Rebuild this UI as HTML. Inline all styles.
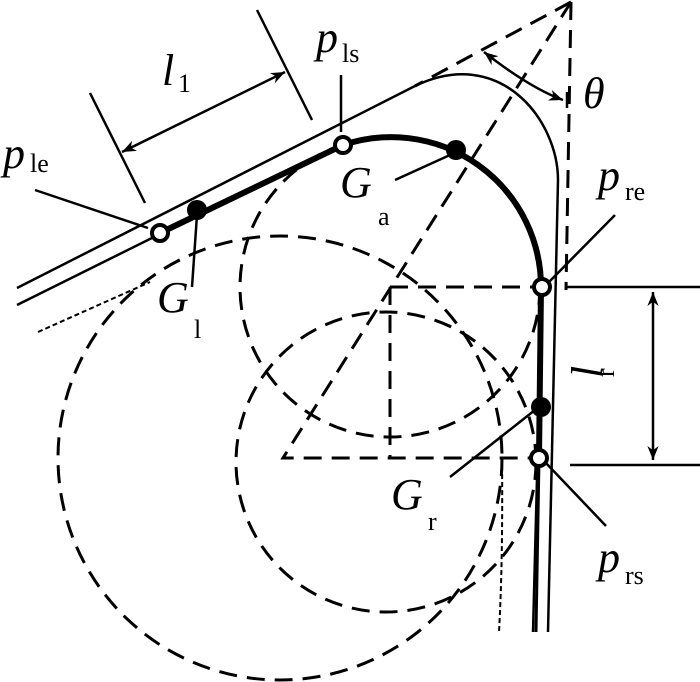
<!DOCTYPE html><html><head><style>body{margin:0;background:#fff}svg{display:block}text{font-family:"Liberation Serif",serif;fill:#000}</style></head><body>
<svg width="700" height="682" viewBox="0 0 700 682" xmlns="http://www.w3.org/2000/svg">
<defs><marker id="a" viewBox="0 0 10 10" refX="10" refY="5" markerWidth="14" markerHeight="14" orient="auto-start-reverse" markerUnits="userSpaceOnUse"><path d="M0,1 L10,5 L0,9 L3,5z" fill="#000"/></marker></defs>
<g fill="none" stroke="#000" stroke-width="3" stroke-dasharray="18,10">
<circle cx="390" cy="287" r="150"/>
<circle cx="386" cy="462" r="150"/>
<circle cx="280" cy="458" r="222"/>
<path d="M571,2 L283,458 L540,458"/>
<path d="M571,2 L566,290"/>
<path d="M571,2 L415,86"/>
<path d="M390,287 L540,287"/>
<path d="M390,287 L390,458"/>
</g>
<g fill="none" stroke="#000" stroke-width="2" stroke-dasharray="5,3">
<path d="M502,458 Q503,560 499,632"/>
<path d="M38,332 L150,282"/>
</g>
<g fill="none" stroke="#000" stroke-width="2.5">
<path d="M17,288 L415,86 C500,45 558,120 558,180 L548,632"/>
<path d="M17,305 L160,234"/>
<path d="M542,287 L533,632"/>
<path d="M90,93 L145,203 M257,10 L312,120"/>
<path d="M122,152 L285,72" marker-start="url(#a)" marker-end="url(#a)"/>
<path d="M35,190 L148,228 M192,287 L197,215 M341,75 L341,132 M395,180 L450,155 M615,215 L548,283 M450,477 L535,410 M606,526 L545,462"/>
<path d="M565,287 L700,287 M570,465 L700,465"/>
<path d="M653,292 L653,460" marker-start="url(#a)" marker-end="url(#a)"/>
<path d="M484,52 Q530,88 563,100" marker-start="url(#a)" marker-end="url(#a)"/>
<path d="M567,92 L567,108"/>
</g>
<g fill="none" stroke="#000" stroke-width="6">
<path d="M160,233 L343,145 A150,150 0 0 1 541,287 L539,458"/>
</g>
<path d="M539,458 L536,632" stroke="#000" stroke-width="3" fill="none"/>
<g fill="#000"><circle cx="197" cy="210" r="10"/><circle cx="456" cy="150" r="10"/><circle cx="541" cy="407" r="10"/></g>
<g fill="#fff" stroke="#000" stroke-width="4"><circle cx="160" cy="233" r="8"/><circle cx="343" cy="145" r="8"/><circle cx="542" cy="287" r="8"/><circle cx="539" cy="458" r="8"/></g>
<g font-style="italic" font-size="44">
<text x="3" y="168">p</text><text x="162" y="85">l</text><text x="316" y="52">p</text><text x="340" y="197">G</text>
<text x="583" y="108">θ</text><text x="598" y="190">p</text><text x="157" y="312">G</text><text x="391" y="509">G</text><text x="598" y="572">p</text>
<text transform="translate(602,378) rotate(-90)" x="0" y="0">l</text>
</g>
<g font-size="26">
<text x="30" y="172">le</text><text x="178" y="92">1</text><text x="342" y="62">ls</text><text x="378" y="225">a</text>
<text x="625" y="200">re</text><text x="194" y="338">l</text><text x="428" y="530">r</text><text x="625" y="584">rs</text>
<text transform="translate(614,377) rotate(-90)">r</text>
</g>
</svg>
</body></html>
